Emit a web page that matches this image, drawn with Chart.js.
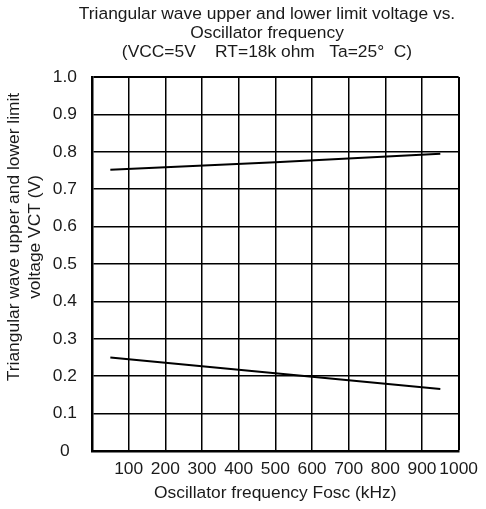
<!DOCTYPE html>
<html>
<head>
<meta charset="utf-8">
<script src="https://cdn.jsdelivr.net/npm/chart.js@4/dist/chart.umd.min.js"></script>
<style>
  html, body { margin: 0; padding: 0; background: #fff; }
  #wrap { width: 486px; height: 509px; position: relative; }
</style>
</head>
<body>
<div id="wrap"><canvas id="chart"></canvas></div>
<script>
// Data
const freqUpper = [50, 500, 950];
const voltUpper = [0.752, 0.772, 0.795];
const freqLower = [50, 500, 950];
const voltLower = [0.250, 0.208, 0.166];

const xTicks = [0, 100, 200, 300, 400, 500, 600, 700, 800, 900, 1000];
const yTicks = [0, 0.1, 0.2, 0.3, 0.4, 0.5, 0.6, 0.7, 0.8, 0.9, 1.0];

const titleLines = [
    'Triangular wave upper and lower limit voltage vs.',
    'Oscillator frequency',
    '(VCC=5V    RT=18k ohm   Ta=25\u00B0  C)'
];
const yTitleLines = ['Triangular wave upper and lower limit', 'voltage VCT (V)'];
const xTitle = 'Oscillator frequency Fosc (kHz)';

const FONT = '"Liberation Sans", Arial, sans-serif';
const FSIZE = 17.4;
const TEXT = '#1a1a1a';

function toPoints(xs, ys) {
    return xs.map((x, i) => ({ x: x, y: ys[i] }));
}

// titles are drawn by hand so they can sit off-centre like the original
const titlePlugin = {
    id: 'titles',
    afterDraw(chart) {
        const ctx = chart.ctx;
        ctx.save();
        ctx.fillStyle = TEXT;
        ctx.font = FSIZE + 'px ' + FONT;
        ctx.textAlign = 'center';
        ctx.textBaseline = 'middle';
        titleLines.forEach((t, i) => ctx.fillText(t, 267, 14 + i * 19));

        ctx.translate(0, 237);
        ctx.rotate(-Math.PI / 2);
        yTitleLines.forEach((t, i) => ctx.fillText(t, 0, 14 + i * 21));
        ctx.restore();
    }
};

new Chart(document.getElementById('chart'), {
    type: 'line',
    data: {
        datasets: [
            {
                label: 'Upper limit',
                data: toPoints(freqUpper, voltUpper),
                borderColor: '#000',
                borderWidth: 2,
                pointRadius: 0,
                tension: 0
            },
            {
                label: 'Lower limit',
                data: toPoints(freqLower, voltLower),
                borderColor: '#000',
                borderWidth: 2,
                pointRadius: 0,
                tension: 0
            }
        ]
    },
    options: {
        responsive: true,
        maintainAspectRatio: false,
        animation: false,
        layout: { padding: { left: 44, right: 18, top: 77, bottom: 0 } },
        plugins: {
            legend: { display: false },
            title: { display: false },
            tooltip: { enabled: false }
        },
        scales: {
            x: {
                type: 'linear',
                min: xTicks[0],
                max: xTicks[xTicks.length - 1],
                afterBuildTicks: scale => { scale.ticks = xTicks.map(v => ({ value: v })); },
                afterFit: scale => { scale.height = 58; },
                grid: {
                    color: '#000',
                    lineWidth: c => (c.index === xTicks.length - 1 ? 2 : 1.5),
                    drawTicks: false
                },
                border: { display: true, color: '#000', width: 2.5 },
                ticks: {
                    padding: 8,
                    color: TEXT,
                    font: { family: FONT, size: FSIZE },
                    maxRotation: 0,
                    autoSkip: false,
                    callback: v => (v === 0 ? '' : String(v))
                },
                title: {
                    display: true,
                    text: xTitle,
                    color: TEXT,
                    font: { family: FONT, size: FSIZE },
                    padding: { top: 0, bottom: 5 }
                }
            },
            y: {
                min: yTicks[0],
                max: yTicks[yTicks.length - 1],
                afterBuildTicks: scale => { scale.ticks = yTicks.map(v => ({ value: v })); },
                afterFit: scale => { scale.width = 48; },
                grid: {
                    color: '#000',
                    lineWidth: c => (c.index === yTicks.length - 1 ? 2 : 1.5),
                    drawTicks: false
                },
                border: { display: true, color: '#000', width: 2.5 },
                ticks: {
                    padding: 15,
                    crossAlign: 'center',
                    color: TEXT,
                    font: { family: FONT, size: FSIZE },
                    autoSkip: false,
                    callback: v => (v === 0 ? '0' : v.toFixed(1))
                }
            }
        }
    },
    plugins: [titlePlugin]
});
</script>
</body>
</html>
